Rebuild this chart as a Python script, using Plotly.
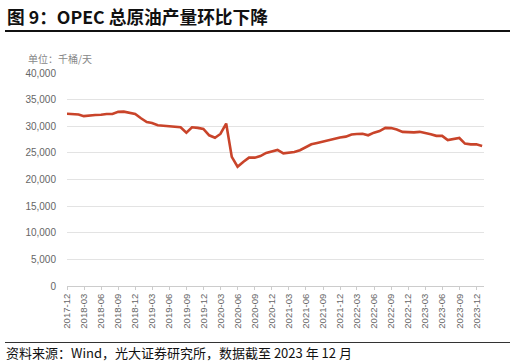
import pandas as pd
import plotly.graph_objects as go

# ---- data ----
months = [d.strftime("%Y-%m-%d") for d in pd.date_range("2017-11-30", periods=74, freq="ME")]
production = [
    32350, 32300, 32200, 31900, 32050, 32100, 32150, 32300, 32300, 32700,
    32750, 32450, 32300, 31500, 30800, 30600, 30200, 30100, 30000, 29900,
    29800, 28800, 29800, 29700, 29500, 28300, 27850, 28550, 30500, 24250,
    22400, 23300, 24100, 24100, 24400, 25000, 25300, 25550, 24900, 25000,
    25150, 25500, 26100, 26600, 26850, 27150, 27400, 27700, 27900, 28050,
    28450, 28550, 28600, 28300, 28800, 29100, 29700, 29650, 29400, 28950,
    28900, 28850, 28950, 28800, 28500, 28200, 28200, 27400, 27550, 27800,
    26750, 26600, 26600, 26300,
]
tick_dates = [d.strftime("%Y-%m-%d") for d in pd.date_range("2017-12-01", "2023-12-01", freq="3MS")]
y_ticks = [0, 5000, 10000, 15000, 20000, 25000, 30000, 35000, 40000]

title_text = "图 9：OPEC 总原油产量环比下降"
unit_text = "单位：千桶/天"
source_text = "资料来源：Wind，光大证券研究所，数据截至 2023 年 12 月"

# ---- layout geometry (pixels) ----
W_FIG, H_FIG = 516, 363
L, R, T, B = 67, 484, 73, 286
PW, PH = R - L, B - T

def px(x):
    return (x - L) / PW

def py(y):
    return (B - y) / PH

CJK = "Noto Sans CJK SC"
LAT = "Liberation Sans, Arial, sans-serif"

fig = go.Figure()
fig.add_trace(go.Scatter(
    x=months, y=production, mode="lines",
    line=dict(color="#c9442a", width=2.6),
    hoverinfo="x+y", showlegend=False,
))

fig.update_layout(
    width=W_FIG, height=H_FIG,
    margin=dict(l=L, r=W_FIG - R, t=T, b=H_FIG - B, pad=0, autoexpand=False),
    paper_bgcolor="white", plot_bgcolor="white",
    separators=".,",
    xaxis=dict(
        type="date", automargin=False,
        range=["2017-11-30", "2024-01-10"],
        tickvals=tick_dates, tickformat="%Y-%m", tickangle=-90,
        tickfont=dict(family=LAT, size=9.5, color="#666666"),
        showgrid=False, showline=True, linecolor="#cccccc", linewidth=1,
        ticks="outside", ticklen=3, tickcolor="#cccccc",
        zeroline=False,
    ),
    yaxis=dict(
        automargin=False,
        range=[0, 40000], tickvals=y_ticks, tickformat=",d",
        tickfont=dict(family=LAT, size=10, color="#666666"),
        showgrid=True, gridcolor="#e3e3e3", gridwidth=1,
        zeroline=False, showline=False, ticks="",
        ticklabelstandoff=10,
    ),
    annotations=[
        dict(text="<b>" + title_text + "</b>", xref="paper", yref="paper",
             x=px(5), y=py(16), xanchor="left", yanchor="middle",
             showarrow=False, font=dict(family=CJK, size=17.7, color="#111111")),
        dict(text=unit_text, xref="paper", yref="paper",
             x=px(26), y=py(59), xanchor="left", yanchor="middle",
             showarrow=False, font=dict(family=CJK, size=10, color="#888888")),
        dict(text=source_text, xref="paper", yref="paper",
             x=px(4), y=py(352), xanchor="left", yanchor="middle",
             showarrow=False, font=dict(family=CJK, size=13, color="#111111")),
    ],
    shapes=[
        dict(type="line", xref="paper", yref="paper",
             x0=px(5), x1=px(510), y0=py(31), y1=py(31),
             line=dict(color="#111111", width=1.8)),
        dict(type="line", xref="paper", yref="paper",
             x0=px(5), x1=px(510), y0=py(342.5), y1=py(342.5),
             line=dict(color="#333333", width=1)),
    ],
)

fig.write_html(
    "out.html",
    config={"displayModeBar": False},
    post_script="document.body.style.margin='0';document.body.style.overflow='hidden';",
)
